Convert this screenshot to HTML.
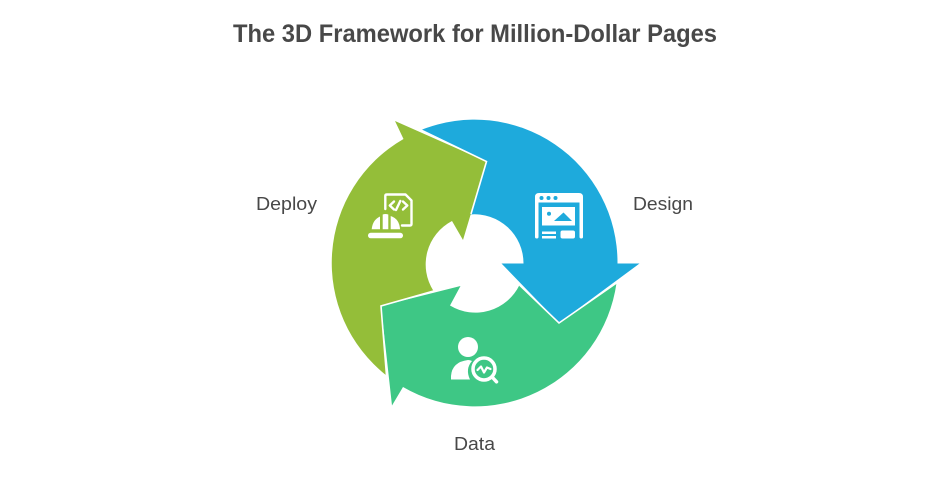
<!DOCTYPE html>
<html>
<head>
<meta charset="utf-8">
<style>
html,body{margin:0;padding:0;background:#fff;width:950px;height:480px;overflow:hidden}
svg{display:block}
text{font-family:"Liberation Sans",Arial,sans-serif;fill:#484848}
</style>
</head>
<body>
<svg width="950" height="480" viewBox="0 0 950 480" xmlns="http://www.w3.org/2000/svg">
<rect width="950" height="480" fill="#fff"/>
<text x="475" y="42" text-anchor="middle" font-size="25" font-weight="700" textLength="484" lengthAdjust="spacingAndGlyphs">The 3D Framework for Million-Dollar Pages</text>

<!-- blue -->
<path d="M421 130 A143 143 0 0 1 617.5 263.5 L639.5 263.5 L559 323 L501.5 263.5 L523.5 263.5 A49 49 0 0 0 470 214.5 L487 162 Z" fill="#1eaadc"/>
<!-- green -->
<path d="M616.5 283 A143 143 0 0 1 403 387 L392 405.5 L381 306 L460.5 286 L450 305.5 A49 49 0 0 0 519.5 285 L559 323 Z" fill="#3ec785"/>
<!-- olive -->
<path d="M395 121 L486.5 161.5 L463 240 L452 221 A49 49 0 0 0 433.5 291 L381 306 L386.5 375.5 A143 143 0 0 1 403.5 139 Z" fill="#94be39"/>
<!-- separators -->
<path d="M421 130 L486.5 161.5 L471 214" fill="none" stroke="#fff" stroke-width="1.6"/>
<path d="M519.5 285 L559 323 L616.5 283" fill="none" stroke="#fff" stroke-width="1.6"/>
<path d="M433.5 291 L381 306 L386.5 375.5" fill="none" stroke="#fff" stroke-width="1.6"/>

<!-- browser icon -->
<g fill="#fff">
<path d="M539 193 H579 Q583 193 583 197 V237 Q583 238.500 581.300 238.500 Q579.500 238.500 579.500 237 V202.500 H538.500 V237 Q538.500 238.500 536.800 238.500 Q535 238.500 535 237 V197 Q535 193 539 193 Z"/>
<rect x="542" y="207" width="33" height="18.500"/>
<rect x="542" y="231.500" width="14" height="2.500"/>
<rect x="542" y="236" width="14" height="2.500"/>
<rect x="560.500" y="230.500" width="14.500" height="8" rx="2"/>
</g>
<g fill="#1eaadc">
<circle cx="541.500" cy="198" r="2"/><circle cx="548.500" cy="198" r="2"/><circle cx="555.500" cy="198" r="2"/>
<circle cx="549" cy="213.700" r="2"/>
<path d="M554 221 L563.500 212.500 L572 221 Z"/>
</g>

<!-- hard hat / code icon -->
<g fill="none" stroke="#fff" stroke-width="2.400" stroke-linejoin="round" stroke-linecap="round">
<path d="M385.300 209 V196 Q385.300 194.500 387 194.500 H405.500 L411.500 200.500 V224 Q411.500 225.500 410 225.500 H402"/>
<path d="M394 201.500 L389.800 205.500 L394 209.500 M403 201.500 L407.300 205.500 L403 209.500 M400.300 201 L396 210"/>
</g>
<g fill="#fff">
<rect x="368" y="232.800" width="35" height="5.500" rx="2.700"/>
<path d="M371.700 229.300 Q372.500 220 380 216.500 V229.300 Z"/>
<path d="M382.700 229.300 V214.500 Q385.500 213.500 388.300 214.500 V229.300 Z"/>
<path d="M390.700 229.300 V216 Q399.500 219 400 229.300 Z"/>
</g>

<!-- person / magnifier icon -->
<g fill="#fff">
<circle cx="468" cy="347" r="10"/>
<path d="M451 379.500 V376 Q452 362 468 360 Q470 360 472 361 Q465 369 470 379.500 Z"/>
</g>
<g fill="none" stroke="#fff">
<circle cx="484" cy="369" r="11" stroke-width="3.500"/>
<path d="M493 378 L496.500 381.800" stroke-width="3.500" stroke-linecap="round"/>
<path d="M477.500 370 L481 366.500 L484 372.500 L487 367.500 L490.500 369" stroke-width="2.200" stroke-linejoin="round" stroke-linecap="round"/>
</g>

<text x="663" y="210" text-anchor="middle" font-size="18.500" textLength="60" lengthAdjust="spacingAndGlyphs">Design</text>
<text x="286.500" y="210" text-anchor="middle" font-size="18.500" textLength="61" lengthAdjust="spacingAndGlyphs">Deploy</text>
<text x="474.500" y="450" text-anchor="middle" font-size="18.500" textLength="41" lengthAdjust="spacingAndGlyphs">Data</text>
</svg>
</body>
</html>
